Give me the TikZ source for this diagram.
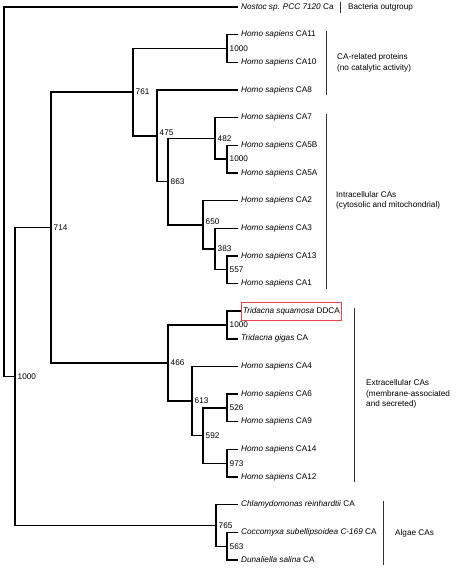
\documentclass[tikz,border=0pt]{standalone}
\usepackage{fontspec}
\setmainfont{Liberation Sans}
\usepackage{xcolor}
\usepackage{tikz}
\usetikzlibrary{positioning}
\definecolor{boxred}{HTML}{E8434F}
\definecolor{grpline}{HTML}{333333}
\newcommand{\treefont}{\fontsize{8.2}{10.7}\selectfont}
\tikzset{
  branch/.style={draw=black, line width=1.4pt},
  leaf/.style={anchor=west, inner xsep=3pt, inner ysep=0pt, text height=6pt, text depth=1.7pt, font=\treefont},
  hilite/.style={draw=boxred, line width=0.8pt, inner xsep=1.5pt, inner ysep=5pt},
  boot/.style={anchor=west, inner sep=1pt, xshift=1.5pt, font=\treefont},
  grp/.style={draw=grpline, line width=0.9pt},
  grplabel/.style={anchor=west, align=left, inner sep=0pt, font=\treefont},
}

\begin{document}
\begin{tikzpicture}[x=1pt,y=-1pt]
\useasboundingbox (0,0) rectangle (459,570);
\node[leaf] (l0) at (238,7) {\textit{Nostoc sp. PCC 7120} Ca};
\node[leaf] (l1) at (238,34.65) {\textit{Homo sapiens} CA11};
\node[leaf] (l2) at (238,62.3) {\textit{Homo sapiens} CA10};
\node[leaf] (l3) at (238,89.95) {\textit{Homo sapiens} CA8};
\node[leaf] (l4) at (238,117.6) {\textit{Homo sapiens} CA7};
\node[leaf] (l5) at (238,145.25) {\textit{Homo sapiens} CA5B};
\node[leaf] (l6) at (238,172.9) {\textit{Homo sapiens} CA5A};
\node[leaf] (l7) at (238,200.55) {\textit{Homo sapiens} CA2};
\node[leaf] (l8) at (238,228.2) {\textit{Homo sapiens} CA3};
\node[leaf] (l9) at (238,255.85) {\textit{Homo sapiens} CA13};
\node[leaf] (l10) at (238,283.5) {\textit{Homo sapiens} CA1};
\node[leaf, hilite] (l11) at (241,311.15) {\textit{Tridacna squamosa} DDCA};
\node[leaf] (l12) at (238,338.8) {\textit{Tridacna gigas} CA};
\node[leaf] (l13) at (238,366.45) {\textit{Homo sapiens} CA4};
\node[leaf] (l14) at (238,394.1) {\textit{Homo sapiens} CA6};
\node[leaf] (l15) at (238,421.75) {\textit{Homo sapiens} CA9};
\node[leaf] (l16) at (238,449.4) {\textit{Homo sapiens} CA14};
\node[leaf] (l17) at (238,477.05) {\textit{Homo sapiens} CA12};
\node[leaf] (l18) at (238,504.7) {\textit{Chlamydomonas reinhardtii} CA};
\node[leaf] (l19) at (238,532.35) {\textit{Coccomyxa subellipsoidea C-169} CA};
\node[leaf] (l20) at (238,560) {\textit{Dunaliella salina} CA};

\coordinate (root) at (4,191.7);
\coordinate (n1000a) at (15,376.5);
\coordinate (n714) at (51,227.5);
\coordinate (n761) at (133,92.1);
\coordinate (n1000b) at (227,48.5);
\coordinate (n475) at (157,135.8);
\coordinate (n863) at (168,181.6);
\coordinate (n482) at (215,138.4);
\coordinate (n1000c) at (227,159.1);
\coordinate (n650) at (203,224.8);
\coordinate (n383) at (215,249);
\coordinate (n557) at (227,269.7);
\coordinate (n466) at (168,363);
\coordinate (n1000d) at (227,325);
\coordinate (n613) at (192,401);
\coordinate (n592) at (203,435.6);
\coordinate (n526) at (227,407.9);
\coordinate (n973) at (227,463.2);
\coordinate (n765) at (216,525.5);
\coordinate (n563) at (227,546.2);

\draw[branch] (root) |- (l0.west);
\draw[branch] (root) |- (n1000a);
\draw[branch] (n1000a) |- (n714);
\draw[branch] (n1000a) |- (n765);
\draw[branch] (n714) |- (n761);
\draw[branch] (n714) |- (n466);
\draw[branch] (n761) |- (n1000b);
\draw[branch] (n761) |- (n475);
\draw[branch] (n1000b) |- (l1.west);
\draw[branch] (n1000b) |- (l2.west);
\draw[branch] (n475) |- (l3.west);
\draw[branch] (n475) |- (n863);
\draw[branch] (n863) |- (n482);
\draw[branch] (n863) |- (n650);
\draw[branch] (n482) |- (l4.west);
\draw[branch] (n482) |- (n1000c);
\draw[branch] (n1000c) |- (l5.west);
\draw[branch] (n1000c) |- (l6.west);
\draw[branch] (n650) |- (l7.west);
\draw[branch] (n650) |- (n383);
\draw[branch] (n383) |- (l8.west);
\draw[branch] (n383) |- (n557);
\draw[branch] (n557) |- (l9.west);
\draw[branch] (n557) |- (l10.west);
\draw[branch] (n466) |- (n1000d);
\draw[branch] (n466) |- (n613);
\draw[branch] (n1000d) |- (l11.west);
\draw[branch] (n1000d) |- (l12.west);
\draw[branch] (n613) |- (l13.west);
\draw[branch] (n613) |- (n592);
\draw[branch] (n592) |- (n526);
\draw[branch] (n592) |- (n973);
\draw[branch] (n526) |- (l14.west);
\draw[branch] (n526) |- (l15.west);
\draw[branch] (n973) |- (l16.west);
\draw[branch] (n973) |- (l17.west);
\draw[branch] (n765) |- (l18.west);
\draw[branch] (n765) |- (n563);
\draw[branch] (n563) |- (l19.west);
\draw[branch] (n563) |- (l20.west);

\node[boot] (t1000a) at (n1000a) {1000};
\node[boot] (t714) at (n714) {714};
\node[boot] (t761) at (n761) {761};
\node[boot] (t1000b) at (n1000b) {1000};
\node[boot] (t475) at ([yshift=3.5]n475) {475};
\node[boot] (t863) at (n863) {863};
\node[boot] (t482) at (n482) {482};
\node[boot] (t1000c) at (n1000c) {1000};
\node[boot] (t650) at ([yshift=3]n650) {650};
\node[boot] (t383) at (n383) {383};
\node[boot] (t557) at (n557) {557};
\node[boot] (t466) at (n466) {466};
\node[boot] (t1000d) at (n1000d) {1000};
\node[boot] (t613) at (n613) {613};
\node[boot] (t592) at (n592) {592};
\node[boot] (t526) at (n526) {526};
\node[boot] (t973) at (n973) {973};
\node[boot] (t765) at (n765) {765};
\node[boot] (t563) at (n563) {563};

\coordinate (g0a) at (340,1.5);
\coordinate (g0b) at (340,12.5);
\coordinate (g1a) at (326,30.5);
\coordinate (g1b) at (326,94.5);
\coordinate (g2a) at (326,113.5);
\coordinate (g2b) at (326,288.5);
\coordinate (g3a) at (354,307.5);
\coordinate (g3b) at (354,482);
\coordinate (g4a) at (383,501);
\coordinate (g4b) at (383,565);
\draw[grp] (g0a) -- (g0b);
\draw[grp] (g1a) -- (g1b);
\draw[grp] (g2a) -- (g2b);
\draw[grp] (g3a) -- (g3b);
\draw[grp] (g4a) -- (g4b);

\node[grplabel] (gl0) at (348,7) {Bacteria outgroup};
\node[grplabel] (gl1) at (337,63) {CA-related proteins\\(no catalytic activity)};
\node[grplabel] (gl2) at (336,200.5) {Intracellular CAs\\(cytosolic and mitochondrial)};
\node[grplabel] (gl3) at (366,394) {Extracellular CAs\\(membrane-associated\\and secreted)};
\node[grplabel] (gl4) at (395,533) {Algae CAs};

\end{tikzpicture}
\end{document}
